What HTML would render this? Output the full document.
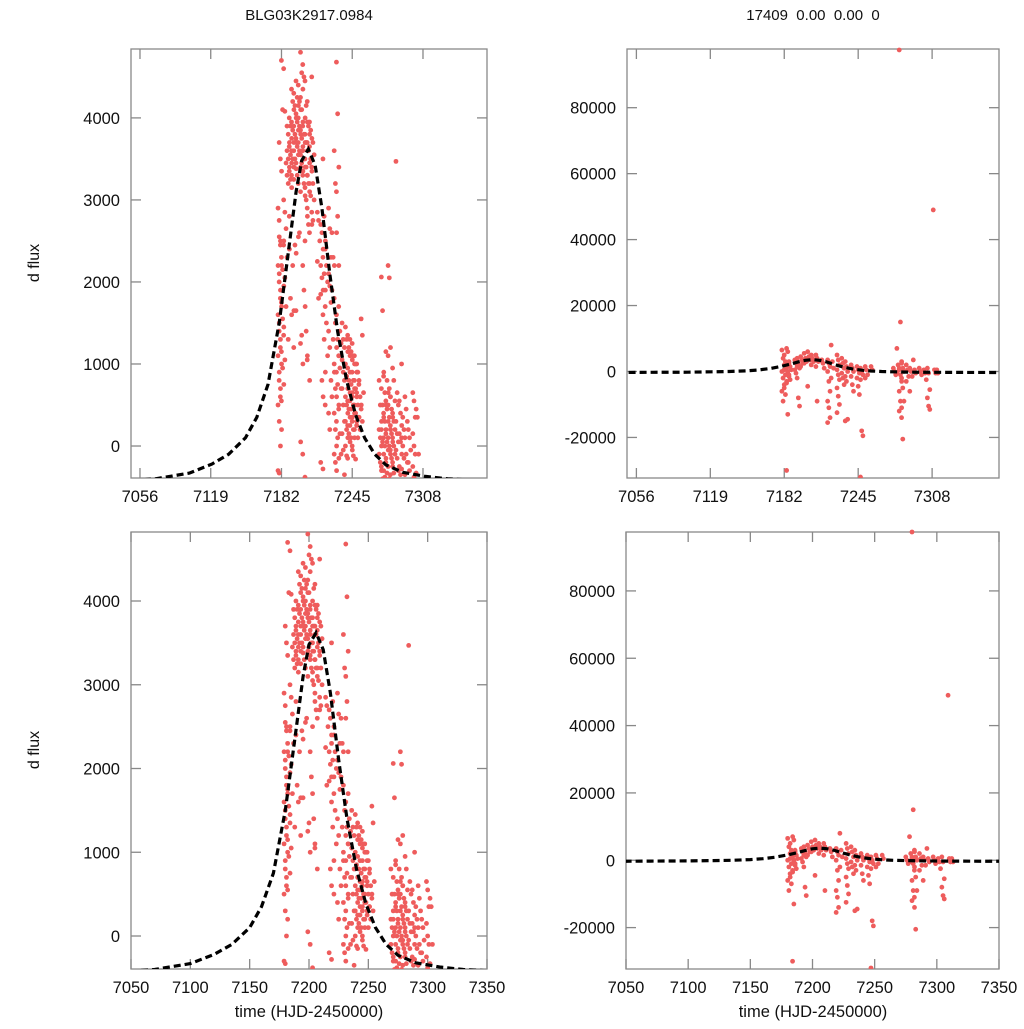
<!DOCTYPE html>
<html><head><meta charset="utf-8"><style>
body{margin:0;background:#fff;font-family:"Liberation Sans",sans-serif;}
svg text{font-family:"Liberation Sans",sans-serif;fill:#111;}
</style></head><body>
<svg id="c" width="1024" height="1024" viewBox="0 0 1024 1024">
<text x="309" y="20" font-size="15" text-anchor="middle">BLG03K2917.0984</text>
<text x="813" y="20" font-size="15" text-anchor="middle" xml:space="preserve">17409  0.00  0.00  0</text>
<text x="39" y="263" font-size="16" text-anchor="middle" transform="rotate(-90 39 263)">d flux</text>
<text x="39" y="750" font-size="16" text-anchor="middle" transform="rotate(-90 39 750)">d flux</text>
<text x="309" y="1017" font-size="16.5" text-anchor="middle">time (HJD-2450000)</text>
<text x="813" y="1017" font-size="16.5" text-anchor="middle">time (HJD-2450000)</text>
</svg>
<script>
// left dataset: groups of [time, fluxes]
const leftTimes=[7180,7181,7183,7185,7188,7190,7192,7194,7196,7198,7200,7202,7204,7206,7208,7210,7215,7218,7220,7222,7225,7228,7230,7232,7234,7237,7240,7242,7244,7246,7248,7250,7252,7254,7270,7272,7274,7276,7278,7280,7282,7285,7288,7290,7293,7296,7300,7303];
const leftFlux=[
[2900,2550,2500,2200,2100,1900,1600,1500,1300,1100,900,700,500,300,0,-300],
[3700,3500,3350,2750,2450,2200,2000,1800,1700,1400,1200,1000,800,600,200,-330],
[4700,4100,2500,2300,2150,1950,1750,1550,1450,1150,950,750,550],
[4600,4080,3450,3000,2850,2650,2450,2050,1700,1350,1050],
[3900,3800,3700,3600,3500,3400,3300,3200,2400,2300,1300],
[4000,3900,3750,3650,3550,3450,3350,3250,3150,2800,1800,1600],
[4350,4200,4100,3950,3850,3700,3600,3500,3400,3300,2200,1650],
[4300,4150,4000,3900,3800,3700,3600,3500,3380,3250,2450,2350,1200],
[4450,4250,4150,4050,3950,3850,3750,3650,3550,3450,3300,2550,1650],
[4400,4200,4100,4000,3900,3800,3700,3600,3400,3200,2600,50],
[4800,4550,4350,4250,4100,3950,3850,3750,3650,3550,3450,3350,3100,1350,1000,1250],
[4650,4500,4000,3900,3800,3700,3600,3500,3400,3300,3200,3050,2200,1900,1700,-100],
[4450,4150,3950,3800,3700,3600,3500,3400,3300,3150,3000,2800,2500,1400,1100,-380],
[4200,3900,3800,3700,3600,3450,3300,3200,3100,2900,2700,800,1050],
[3950,3850,3750,3650,3500,3350,3200,3050,2700,2600],
[4500,3700,3550,3400,3200,3000,2850,2750],
[2850,2750,2500,2250,1800],
[2700,2600,2400,2200,2050,1900,1850,800,600,-200],
[3500,2800,2500,2300,2100,1900,1600,1300,900,-280],
[2400,2200,2000,1700,1500,1100,500],
[2900,2650,2300,2100,1950,1750,1400,1200,800,400,200],
[2600,2300,2200,1900,1300,900,600],
[3600,3200,2600,1800,1500,1200,1000,700,600,400,200,0,-100,-200,-300],
[4680,4050,3400,3100,2800,2200,1600,1300,1100,900,750,500,300,100,-150],
[1700,1400,1250,1100,950,700,450,150,-100],
[1500,1300,1200,1050,900,800,700,500,300,150,-50,-350],
[1450,1300,1150,1000,850,700,600,500,400,300,200,100,0,-120],
[1350,1200,1100,950,800,650,550,450,350,250,150,50,-150],
[1300,1150,1050,900,750,650,550,450,350,250,100,-50],
[1250,1100,1000,900,800,700,600,500,400,300,200,100,0,-120],
[1100,1000,900,800,700,600,500,400,300,200,-160],
[1000,900,800,650,500,350,250,100],
[750,600,500,350,200],
[1550,1350,650,450,300],
[800,500,300,200,100,0,-100,-200,-300],
[2060,1650,900,700,500,350,200,50,-100,-250,-400],
[850,650,500,400,300,200,100,0,-150,-300,-380],
[1150,800,650,550,450,300,150,50,-50,-200,-330],
[2200,2050,1200,1100,700,600,500,350,200,100,0,-100,-250,-400],
[600,450,350,250,150,50,-50,-150,-250,-350],
[950,800,550,400,300,200,100,0,-100,-200,-330],
[3470,650,500,300,150,50,-50,-150,-300],
[550,400,250,150,50,-100,-250,-350],
[1000,350,200,100,0,-150,-280],
[600,450,300,100,-100,-200,-350],
[200,100,-50,-200,-300],
[650,550,350,150,0,-100,-250,-380],
[450,350,-100,-330]];
const rightTimes=[7181,7183,7185,7187,7192,7194,7197,7200,7203,7206,7210,7215,7220,7223,7228,7232,7235,7240,7245,7248,7252,7257,7276,7279,7281,7283,7287,7290,7293,7298,7302,7305,7310,7313];
const rightFlux=[
[6500,4000,2000,0,-2000,-4000,-6000,-9000],
[5000,3000,1500,500,-1000,-3000,-5000,-7000,-30000],
[7000,6000,3000,1000,0,-1500,-3500,-13000],
[2500,1500,500,-1000,-2500],
[3500,2500,1500,500,-500],
[4000,2500,1000,-2000,-8000,-10500],
[4500,3500,2500,1500],
[5500,4000,3000,2500],
[6000,4500,3500,-4500],
[5000,4000,3000,2000],
[5000,4000,3000,1500,-9000],
[3500,2500,1000],
[3500,2500,1500,0,-3000,-6000,-9000,-11000,-14000,-15500],
[8000,3000,1000,-2000],
[5000,3500,2000,500,-1000,-2500,-5000,-7500,-10000,-12500],
[4000,2500,1000,-500,-2000,-4000],
[3000,1500,0,-1500,-3000,-14500,-15000],
[2000,1000,0,-1500,-4000,-6000],
[1500,500,-500,-2000,-4500,-7000],
[1000,0,-1000,-2500,-18000,-19500,-32000],
[1500,500,-1000,-2000],
[1500,500],
[1000,0,-1000],
[7000,2000,500,-500],
[97500,15000,3000,1000,-1000,-3000,-6000,-9000,-11000,-12000],
[2500,1000,0,-2000,-5000,-9000,-14000,-20500],
[2000,500,-1500,-3000],
[1000,0,-1500,-6000],
[3500,500,-500],
[1000,0,-1000],
[500,-500,-2500],
[1000,-500,-5500,-8000,-10500,-11500],
[49000,500,-500],
[500,-500]];
// model curve
const curveT=[7040,7070,7100,7120,7135,7150,7160,7170,7180,7188,7195,7200,7206,7212,7218,7225,7232,7240,7248,7256,7265,7275,7290,7310,7330,7370];
const curveLeft=[-430,-400,-330,-220,-100,100,350,750,1500,2350,3100,3480,3620,3420,2900,2100,1400,800,380,100,-100,-230,-320,-370,-400,-430];
const curveRight=[-300,-250,-200,-100,0,200,450,900,1600,2300,3000,3400,3600,3400,2900,2100,1400,800,400,150,0,-100,-200,-250,-280,-300];
const topXTicks=[7056,7119,7182,7245,7308];
const botXTicks=[7050,7100,7150,7200,7250,7300,7350];
const leftYTicks=[0,1000,2000,3000,4000];
const rightYTicks=[-20000,0,20000,40000,60000,80000];

const NS='http://www.w3.org/2000/svg';
const svg=document.getElementById('c');
function mk(tag,attrs,parent){const e=document.createElementNS(NS,tag);for(const k in attrs)e.setAttribute(k,attrs[k]);(parent||svg).appendChild(e);return e;}

function panel(id,box,xr,yr,xticks,yticks,times,flux,cT,cF){
  const g=mk('g',{});
  
  
  const X=v=>box.x0+(v-xr[0])/(xr[1]-xr[0])*(box.x1-box.x0);
  const Y=v=>box.y1-(v-yr[0])/(yr[1]-yr[0])*(box.y1-box.y0);
  const clip=mk('clipPath',{id:id+'-clip'},g);
  mk('rect',{x:box.x0,y:box.y0-3,width:box.x1-box.x0,height:box.y1-box.y0+3},clip);
  const fr=mk('rect',{x:box.x0,y:box.y0,width:box.x1-box.x0,height:box.y1-box.y0,fill:'none',stroke:'#888','stroke-width':1.3},g);
  
  
  xticks.forEach(t=>{
    const x=X(t);
    mk('line',{x1:x,x2:x,y1:box.y0,y2:box.y0+10,stroke:'#888','stroke-width':1.3},g);
    mk('line',{x1:x,x2:x,y1:box.y1,y2:box.y1-10,stroke:'#888','stroke-width':1.3},g);
    const tx=mk('text',{x:x,y:box.y1+24,'font-size':16.5,'text-anchor':'middle'},g);
    tx.textContent=t;
    
    
  });
  yticks.forEach(t=>{
    const y=Y(t);
    mk('line',{x1:box.x0,x2:box.x0+10,y1:y,y2:y,stroke:'#888','stroke-width':1.3},g);
    mk('line',{x1:box.x1,x2:box.x1-10,y1:y,y2:y,stroke:'#888','stroke-width':1.3},g);
    const tx=mk('text',{x:box.x0-11,y:y+6,'font-size':16.5,'text-anchor':'end'},g);
    tx.textContent=t;
    
    
  });
  const pts=mk('g',{'clip-path':'url(#'+id+'-clip)',fill:'#ee5c5c'},g);
  
  
  times.forEach((t,i)=>{
    flux[i].forEach((f,j)=>{
      const off=((j%3)-1)*1.2;
      const c=mk('circle',{cx:X(t)+off,cy:Y(f),r:2.4},pts);
      
      
    });
  });
  const d=cT.map((t,i)=>(i?'L':'M')+X(t).toFixed(1)+' '+Y(cF[i]).toFixed(1)).join(' ');
  const p=mk('path',{d:d,fill:'none',stroke:'#000','stroke-width':3.2,'stroke-dasharray':'7 4','clip-path':'url(#'+id+'-clip)'},g);
  
  
}
panel('top-left',{x0:131,x1:487,y0:49,y1:478},[7048,7365],[-390,4840],topXTicks,leftYTicks,leftTimes,leftFlux,curveT,curveLeft);
panel('top-right',{x0:627,x1:999,y0:49,y1:478},[7048,7365],[-32300,97800],topXTicks,rightYTicks,rightTimes,rightFlux,curveT,curveRight);
panel('bottom-left',{x0:131,x1:487,y0:532,y1:969},[7050,7350],[-394,4824],botXTicks,leftYTicks,leftTimes,leftFlux,curveT,curveLeft);
panel('bottom-right',{x0:626,x1:999,y0:532,y1:969},[7050,7350],[-32300,97500],botXTicks,rightYTicks,rightTimes,rightFlux,curveT,curveRight);
</script>
</body></html>
